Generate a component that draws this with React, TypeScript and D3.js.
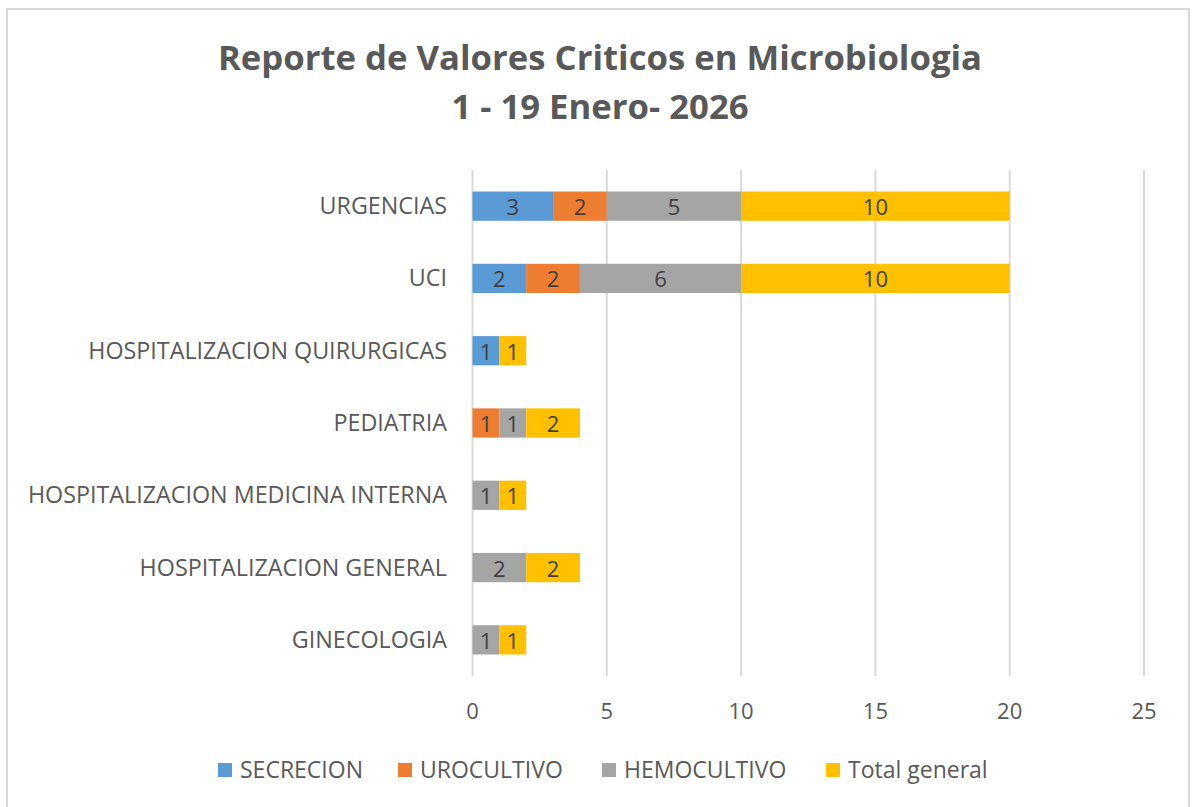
import React from "react";
import * as d3 from "d3";

const categories = [
  "URGENCIAS",
  "UCI",
  "HOSPITALIZACION QUIRURGICAS",
  "PEDIATRIA",
  "HOSPITALIZACION MEDICINA INTERNA",
  "HOSPITALIZACION GENERAL",
  "GINECOLOGIA",
];
const seriesNames = ["SECRECION", "UROCULTIVO", "HEMOCULTIVO", "Total general"];
const secrecion = [3, 2, 1, 0, 0, 0, 0];
const urocultivo = [2, 2, 0, 1, 0, 0, 0];
const hemocultivo = [5, 6, 0, 1, 1, 2, 1];
const totalGeneral = [10, 10, 1, 2, 1, 2, 1];
const xTicks = [0, 5, 10, 15, 20, 25];
const colors = ["#5B9BD5", "#ED7D31", "#A5A5A5", "#FFC000"];

const W = 1192;
const H = 807;
const FONT = "'Open Sans', sans-serif";

export default function App() {
  const x = d3.scaleLinear().domain([0, 25]).range([472.5, 1144]);
  const y = d3.scaleBand<string>().domain(categories).range([170, 676]).paddingInner(0.595).paddingOuter(0.2975);
  const seriesValues = [secrecion, urocultivo, hemocultivo, totalGeneral];
  const rows = categories.map((c, i) => {
    const r: any = { cat: c };
    seriesNames.forEach((s, j) => (r[s] = seriesValues[j][i]));
    return r;
  });
  const stacked = d3.stack<any>().keys(seriesNames)(rows);
  const legendX = [218, 398, 602, 826];

  return (
    <svg width={W} height={H} style={{ position: "absolute", left: 0, top: 0, background: "#fff" }} fontFamily={FONT}>
      <rect x={7} y={9} width={1182} height={810} fill="#fff" stroke="#d9d9d9" strokeWidth={2} />
      <text x={600} y={70} textAnchor="middle" fontSize={34.7} fontWeight={700} fill="#595959">
        Reporte de Valores Criticos en Microbiologia
      </text>
      <text x={600} y={119} textAnchor="middle" fontSize={34.7} fontWeight={700} fill="#595959">
        1 - 19 Enero- 2026
      </text>
      {xTicks.map((t) => (
        <g key={t}>
          <line x1={x(t)} x2={x(t)} y1={170} y2={676} stroke="#d9d9d9" strokeWidth={2} />
          <text x={x(t)} y={719} textAnchor="middle" fontSize={22} fill="#595959">
            {t}
          </text>
        </g>
      ))}
      {categories.map((c) => (
        <text key={c} x={447} y={(y(c) as number) + y.bandwidth() / 2 + 8} textAnchor="end" fontSize={23.3} fill="#595959">
          {c}
        </text>
      ))}
      {stacked.map((s, j) => (
        <g key={s.key}>
          {s.map((d, i) => {
            const v = d[1] - d[0];
            if (v <= 0) return null;
            const yy = y(categories[i]) as number;
            return (
              <g key={i}>
                <rect x={x(d[0])} y={yy} width={x(d[1]) - x(d[0])} height={y.bandwidth()} fill={colors[j]} />
                <text x={(x(d[0]) + x(d[1])) / 2} y={yy + y.bandwidth() / 2 + 9} textAnchor="middle" fontSize={22} fill="#404040">
                  {v}
                </text>
              </g>
            );
          })}
        </g>
      ))}
      {seriesNames.map((s, j) => (
        <g key={s}>
          <rect x={legendX[j]} y={763} width={14} height={14} fill={colors[j]} />
          <text x={legendX[j] + 22} y={778} fontSize={23} fill="#595959">
            {s}
          </text>
        </g>
      ))}
    </svg>
  );
}
